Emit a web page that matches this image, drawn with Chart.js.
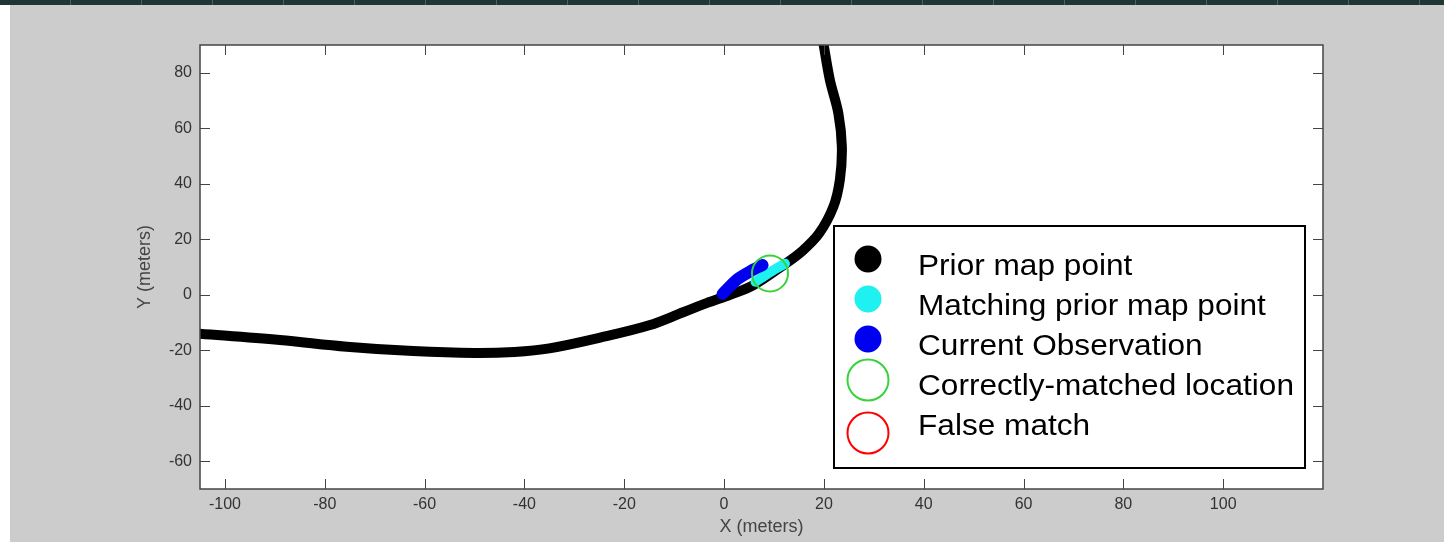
<!DOCTYPE html>
<html>
<head>
<meta charset="utf-8">
<script src="https://cdn.jsdelivr.net/npm/chart.js@4.4.1/dist/chart.umd.min.js"></script>
<style>
  html, body { margin: 0; padding: 0; background: #fff; }
  #wrap { position: relative; width: 1444px; height: 542px;
    background: linear-gradient(to right, #fff 0, #fff 10px, #cccccc 10px); }
  #strip { position: absolute; left: 0; top: 0; width: 1444px; height: 5px;
    background: repeating-linear-gradient(to right, #1f3636 0, #1f3636 70px, #4d6060 70px, #4d6060 71px); }
  canvas { position: absolute; left: 0; top: 0; }
</style>
</head>
<body>
<div id="wrap">
  <div id="strip"></div>
  <canvas id="mapChart" width="1444" height="542"></canvas>
</div>
<script>
// prior map trajectory (meters)
const pathX = [-106, -89, -75.6, -62.3, -50, -42, -35, -25, -15, -8.2, -3.5, 1.2, 5.9, 11.9, 15.5, 19, 21.9, 23.2, 23.6, 22.9, 21.2, 19.9];
const pathY = [-13.9, -16.3, -18.7, -20.3, -21, -20.6, -19.3, -15.5, -11, -6.3, -3, 0, 3.5, 10.7, 15.5, 22, 31.7, 41.4, 53.4, 65.4, 77.4, 90.6];

// current observation and matching prior map points
const obsX = [-0.3, 2.7, 5.3, 7.7];
const obsY = [0.3, 5.6, 8.5, 10.7];
const matchX = [6.3, 9.3, 12.2];
const matchY = [4.7, 8.2, 11.2];

// correctly matched location
const hitX = [9.2];
const hitY = [7.7];

const xTicks = [-100, -80, -60, -40, -20, 0, 20, 40, 60, 80, 100];
const yTicks = [-60, -40, -20, 0, 20, 40, 60, 80];

const labels = ["Prior map point", "Matching prior map point", "Current Observation",
  "Correctly-matched location", "False match"];

const toPoints = (xs, ys) => xs.map((x, i) => ({ x: x, y: ys[i] }));
const FONT = "'Liberation Sans', Arial, sans-serif";

const framePlugin = {
  id: "frame",
  beforeDraw(chart) {
    const { ctx, chartArea: a } = chart;
    ctx.save();
    ctx.fillStyle = "#fff";
    ctx.fillRect(a.left, a.top, a.right - a.left, a.bottom - a.top);
    ctx.restore();
  },
  afterDraw(chart) {
    const { ctx, chartArea: a, scales } = chart;
    ctx.save();
    ctx.strokeStyle = "#444";
    ctx.lineWidth = 1.5;
    ctx.strokeRect(a.left, a.top, a.right - a.left, a.bottom - a.top);

    // matlab style inward ticks on all sides
    ctx.beginPath();
    scales.x.ticks.forEach((t) => {
      const p = Math.round(scales.x.getPixelForValue(t.value)) + 0.5;
      ctx.moveTo(p, a.bottom); ctx.lineTo(p, a.bottom - 10);
      ctx.moveTo(p, a.top); ctx.lineTo(p, a.top + 10);
    });
    scales.y.ticks.forEach((t) => {
      const p = Math.round(scales.y.getPixelForValue(t.value)) + 0.5;
      ctx.moveTo(a.left, p); ctx.lineTo(a.left + 10, p);
      ctx.moveTo(a.right, p); ctx.lineTo(a.right - 10, p);
    });
    ctx.lineWidth = 1;
    ctx.stroke();

    // legend box
    ctx.fillStyle = "#fff";
    ctx.fillRect(834, 226, 471, 242);
    ctx.strokeStyle = "#000";
    ctx.lineWidth = 2;
    ctx.strokeRect(834, 226, 471, 242);

    const markerY = [259, 299, 339, 380, 433];
    chart.data.datasets.forEach((ds, i) => {
      const y = 267 + i * 40;
      ctx.beginPath();
      if (ds.legendOpen) {
        ctx.arc(868, markerY[i], 20.5, 0, Math.PI * 2);
        ctx.strokeStyle = ds.pointBorderColor;
        ctx.lineWidth = 2;
        ctx.stroke();
      } else {
        ctx.arc(868, markerY[i], 13.5, 0, Math.PI * 2);
        ctx.fillStyle = ds.borderColor;
        ctx.fill();
      }
      ctx.save();
      ctx.translate(918, y);
      ctx.scale(1.09, 1);
      ctx.fillStyle = "#000";
      ctx.font = "29px " + FONT;
      ctx.textBaseline = "middle";
      ctx.textAlign = "left";
      ctx.fillText(ds.label, 0, 0);
      ctx.restore();
    });
    ctx.restore();
  }
};

const ctx = document.getElementById("mapChart").getContext("2d");

const chart = new Chart(ctx, {
  type: "scatter",
  data: {
    datasets: [
      {
        label: labels[0],
        data: toPoints(pathX, pathY),
        showLine: true,
        borderColor: "#000",
        backgroundColor: "#000",
        borderWidth: 10,
        borderCapStyle: "round",
        borderJoinStyle: "round",
        tension: 0.35,
        pointRadius: 0,
        order: 4,
      },
      {
        label: labels[1],
        data: toPoints(matchX, matchY),
        showLine: true,
        borderColor: "#1ff0f0",
        backgroundColor: "#1ff0f0",
        borderWidth: 10,
        borderCapStyle: "round",
        tension: 0.3,
        pointRadius: 0,
        order: 3,
      },
      {
        label: labels[2],
        data: toPoints(obsX, obsY),
        showLine: true,
        borderColor: "#0000f0",
        backgroundColor: "#0000f0",
        borderWidth: 12,
        borderCapStyle: "round",
        tension: 0.3,
        pointRadius: 0,
        order: 2,
      },
      {
        label: labels[3],
        data: toPoints(hitX, hitY),
        showLine: false,
        pointRadius: 18,
        pointBorderWidth: 2,
        pointBorderColor: "#3ad23a",
        pointBackgroundColor: "rgba(0,0,0,0)",
        legendOpen: true,
        order: 1,
      },
      {
        label: labels[4],
        data: [],
        pointRadius: 18,
        pointBorderWidth: 2,
        pointBorderColor: "#ff0000",
        pointBackgroundColor: "rgba(0,0,0,0)",
        legendOpen: true,
        order: 0,
      },
    ],
  },
  options: {
    responsive: false,
    animation: false,
    layout: { padding: { left: 0, top: 45, right: 121, bottom: 0 } },
    plugins: { legend: { display: false }, tooltip: { enabled: false } },
    scales: {
      x: {
        type: "linear",
        min: -105,
        max: 120,
        afterBuildTicks: (s) => { s.ticks = xTicks.map((v) => ({ value: v })); },
        afterFit: (s) => { s.height = 53; },
        grid: { display: false, drawTicks: false },
        border: { display: false },
        ticks: { color: "#333", font: { family: FONT, size: 16 }, padding: 6, maxRotation: 0, autoSkip: false },
        title: { display: true, text: "X (meters)", color: "#444", font: { family: FONT, size: 18 }, padding: { bottom: 4 } },
      },
      y: {
        type: "linear",
        min: -70,
        max: 90,
        afterBuildTicks: (s) => { s.ticks = yTicks.map((v) => ({ value: v })); },
        afterFit: (s) => { s.width = 200; },
        grid: { display: false, drawTicks: false },
        border: { display: false },
        ticks: { color: "#333", font: { family: FONT, size: 16 }, padding: 8, autoSkip: false },
        title: { display: true, text: "Y (meters)", color: "#444", font: { family: FONT, size: 18 }, padding: { top: 134 } },
      },
    },
  },
  plugins: [framePlugin],
});
</script>
</body>
</html>
